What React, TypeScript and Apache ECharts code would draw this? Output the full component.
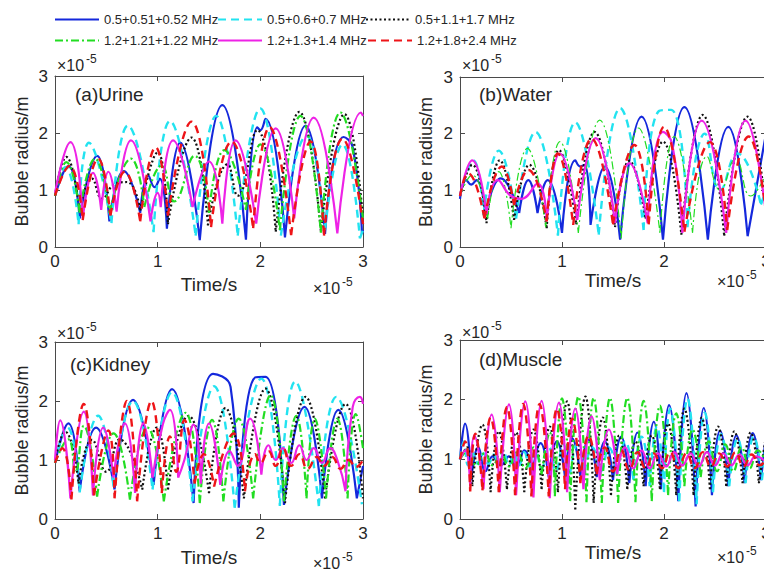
import React, { useEffect, useRef } from 'react';
import * as echarts from 'echarts';

const FONT = '"Liberation Sans", Arial, Helvetica, sans-serif';
const TXT = '#262626';
const AX = '#4a4a4a';

const SERIES_NAMES = [
  '0.5+0.51+0.52 MHz',
  '0.5+0.6+0.7 MHz',
  '0.5+1.1+1.7 MHz',
  '1.2+1.21+1.22 MHz',
  '1.2+1.3+1.4 MHz',
  '1.2+1.8+2.4 MHz',
];
const PANEL_TITLES = ['(a)Urine', '(b)Water', '(c)Kidney', '(d)Muscle'];
const X_NAME = 'Time/s';
const Y_NAME = 'Bubble radius/m';
const AXIS_MIN = 0;
const AXIS_MAX = 3;
const AXIS_STEP = 1;
const EXP_BASE = '×10';
const EXP_POW = '-5';

// values: [time (×1e-5 s), radius (×1e-5 m)]
// (a) Urine
const urineBlue = [[0,0.9],[0.13,1.42],[0.24,0.5],[0.41,1.6],[0.53,0.45],[0.67,1.33],[0.83,0.6],[0.91,1.25],[0.97,1.05],[1.02,1.2],[1.09,0.32],[1.22,1.83],[1.41,0.12],[1.63,2.49],[1.86,0.13],[1.97,2.1],[2.0,2.05],[2.05,2.25],[2.24,0.17],[2.44,2.13],[2.63,0.23],[2.81,1.93],[2.9,1.75],[2.99,0.23],[3.0,0.3]];
const urineCyan = [[0,0.9],[0.1,1.4],[0.23,0.4],[0.33,1.83],[0.55,0.42],[0.71,2.13],[0.96,0.26],[1.12,2.21],[1.37,0.2],[1.57,2.3],[1.78,0.2],[2.0,2.43],[2.2,0.2],[2.45,1.95],[2.63,0.3],[2.8,1.8],[2.97,0.15],[3.0,0.3]];
const urineBlack = [[0,0.9],[0.11,1.58],[0.24,0.62],[0.36,1.2],[0.46,0.85],[0.58,1.1],[0.7,1.14],[0.83,0.64],[1.0,1.66],[1.1,0.4],[1.33,1.92],[1.49,0.38],[1.68,1.45],[1.78,0.9],[1.97,2.05],[2.15,0.27],[2.38,2.37],[2.59,0.27],[2.82,2.33],[3.0,0.5]];
const urineGreen = [[0,0.9],[0.11,1.49],[0.24,0.6],[0.39,1.55],[0.53,0.6],[0.74,1.55],[0.87,0.7],[1.04,1.43],[1.16,0.8],[1.36,1.6],[1.5,0.6],[1.65,1.7],[1.86,0.65],[2.0,1.8],[2.19,0.3],[2.39,2.3],[2.59,0.25],[2.78,2.36],[3.0,0.5]];
const urineMagenta = [[0,0.95],[0.15,1.84],[0.27,0.5],[0.37,1.3],[0.45,0.65],[0.52,1.32],[0.6,0.62],[0.74,1.87],[0.93,0.45],[1.0,0.95],[1.03,0.7],[1.15,1.87],[1.34,0.7],[1.5,1.5],[1.63,0.41],[1.76,1.87],[1.96,0.41],[2.15,2.08],[2.33,0.5],[2.52,2.27],[2.75,0.24],[2.98,2.36],[3.0,2.3]];
const urineRed = [[0,0.9],[0.14,1.42],[0.27,0.47],[0.42,1.55],[0.54,0.55],[0.68,1.32],[0.83,0.45],[0.98,1.75],[1.1,0.55],[1.33,2.2],[1.52,0.35],[1.72,1.85],[1.93,0.33],[2.09,2.1],[2.3,0.21],[2.49,1.85],[2.62,0.2],[2.8,1.9],[3.0,0.4]];

// (b) Water
const waterBlue = [[0,0.85],[0.06,1.18],[0.11,1.1],[0.16,1.18],[0.25,0.57],[0.4,1.21],[0.58,0.6],[0.67,1.18],[0.76,0.6],[0.86,1.18],[1.0,0.25],[1.13,1.53],[1.18,1.42],[1.22,1.45],[1.28,0.39],[1.42,1.42],[1.57,0.13],[1.78,2.3],[1.99,0.13],[2.2,2.47],[2.43,0.13],[2.63,2.12],[2.82,0.19],[3.0,2.0]];
const waterCyan = [[0,0.9],[0.13,1.53],[0.23,0.56],[0.38,1.7],[0.55,0.5],[0.74,2.03],[0.96,0.2],[1.13,2.2],[1.36,0.22],[1.57,2.45],[1.8,0.3],[1.95,2.4],[2.07,2.42],[2.23,0.35],[2.4,2.0],[2.55,1.0],[2.72,1.65],[2.95,0.75],[3.0,1.0]];
const waterBlack = [[0,0.9],[0.12,1.45],[0.26,0.42],[0.39,1.53],[0.53,0.48],[0.68,1.45],[0.85,0.33],[0.97,1.71],[1.14,0.4],[1.32,2.03],[1.52,0.35],[1.66,1.52],[1.82,0.5],[1.99,1.86],[2.17,0.22],[2.38,2.33],[2.59,0.2],[2.82,2.3],[3.0,0.6]];
const waterGreen = [[0,0.9],[0.12,1.27],[0.27,0.5],[0.38,1.33],[0.5,0.33],[0.66,1.74],[0.84,0.35],[0.98,1.86],[1.16,0.25],[1.37,2.24],[1.58,0.15],[1.75,2.1],[1.96,0.25],[2.1,1.95],[2.28,0.25],[2.42,1.6],[2.55,1.0],[2.7,1.55],[2.85,0.9],[3.0,1.3]];
const waterMagenta = [[0,0.9],[0.12,1.53],[0.26,0.58],[0.37,1.18],[0.5,0.9],[0.6,0.85],[0.76,1.12],[0.85,0.45],[0.98,1.65],[1.15,0.48],[1.33,1.92],[1.52,0.42],[1.66,1.48],[1.84,0.42],[1.99,2.03],[2.08,1.82],[2.18,0.25],[2.37,2.23],[2.61,0.25],[2.8,2.23],[3.0,0.6]];
const waterRed = [[0,0.9],[0.08,1.3],[0.24,0.5],[0.41,1.42],[0.53,0.74],[0.67,1.36],[0.85,0.45],[0.96,1.65],[1.11,0.39],[1.29,1.91],[1.5,0.4],[1.71,1.8],[1.85,0.4],[2.0,2.12],[2.2,0.27],[2.45,1.85],[2.62,0.3],[2.83,1.95],[3.0,0.6]];

// (c) Kidney
const kidneyBlue = [[0,0.95],[0.13,1.62],[0.24,0.47],[0.4,1.55],[0.58,0.5],[0.76,2.02],[0.96,0.58],[1.14,2.2],[1.35,0.27],[1.54,2.46],[1.71,2.24],[1.79,0.19],[1.95,2.4],[2.05,2.41],[2.23,0.24],[2.43,1.9],[2.6,0.35],[2.76,1.85],[2.94,0.35],[3.0,0.9]];
const kidneyCyan = [[0,0.95],[0.12,1.55],[0.24,0.45],[0.42,1.75],[0.57,0.55],[0.76,2.0],[0.95,0.5],[1.14,2.15],[1.34,0.3],[1.55,2.25],[1.75,0.19],[2.01,2.38],[2.19,0.22],[2.34,2.33],[2.57,0.22],[2.74,2.07],[2.99,0.25]];
const kidneyBlack = [[0,1.0],[0.1,1.48],[0.23,0.6],[0.36,1.34],[0.5,0.8],[0.63,1.35],[0.85,0.5],[0.99,1.55],[1.1,0.5],[1.3,1.75],[1.5,0.44],[1.66,1.88],[1.84,0.35],[2.05,2.21],[2.24,0.27],[2.44,2.07],[2.63,0.35],[2.83,1.95],[3.0,0.35]];
const kidneyGreen = [[0,0.95],[0.13,1.35],[0.2,0.8],[0.28,1.58],[0.41,0.38],[0.57,1.45],[0.73,0.33],[0.9,1.55],[1.06,0.3],[1.27,1.8],[1.41,0.27],[1.53,1.68],[1.64,0.3],[1.79,1.7],[1.93,0.35],[2.1,2.1],[2.23,0.3],[2.35,1.75],[2.45,0.35],[2.53,1.7],[2.64,0.35],[2.75,1.7],[2.85,0.35],[2.93,1.78],[3.0,1.2]];
const kidneyMagenta = [[0,1.0],[0.05,1.67],[0.15,0.35],[0.28,1.82],[0.37,0.4],[0.47,1.55],[0.57,0.7],[0.68,1.62],[0.78,0.44],[0.86,1.62],[0.95,0.7],[1.05,1.6],[1.12,1.85],[1.2,0.7],[1.26,1.0],[1.35,1.6],[1.42,0.6],[1.5,1.62],[1.61,0.58],[1.7,1.15],[1.78,0.9],[1.9,1.7],[2.01,0.75],[2.08,1.25],[2.15,1.0],[2.22,1.2],[2.3,0.95],[2.38,1.25],[2.45,1.0],[2.52,1.2],[2.6,0.95],[2.68,1.2],[2.75,1.0],[2.83,0.47],[2.9,1.9],[2.97,2.07],[3.0,1.95]];
const kidneyRed = [[0,0.95],[0.07,1.2],[0.16,0.33],[0.28,1.95],[0.38,0.4],[0.52,1.5],[0.58,0.35],[0.7,2.0],[0.8,0.3],[0.94,2.0],[1.04,0.44],[1.12,1.4],[1.18,0.8],[1.26,1.68],[1.36,0.6],[1.45,1.1],[1.55,0.55],[1.74,1.45],[1.85,0.47],[1.95,1.1],[2.0,0.95],[2.08,1.15],[2.15,0.9],[2.22,1.2],[2.3,0.9],[2.38,1.1],[2.46,0.85],[2.55,1.05],[2.62,0.9],[2.7,1.05],[2.78,0.85],[2.86,1.0],[2.93,0.88],[3.0,1.0]];

// (d) Muscle
const muscleBlue = [[0,1.0],[0.05,1.6],[0.11,0.65],[0.18,1.2],[0.25,0.8],[0.32,1.05],[0.4,0.9],[0.48,1.05],[0.55,0.85],[0.63,1.15],[0.71,0.75],[0.79,1.27],[0.87,0.7],[0.95,1.3],[1.03,0.7],[1.1,1.35],[1.18,0.72],[1.26,1.33],[1.34,0.7],[1.42,1.3],[1.5,0.65],[1.58,1.38],[1.66,0.6],[1.74,1.45],[1.82,0.55],[1.9,1.63],[1.97,0.5],[2.05,1.91],[2.14,0.3],[2.22,2.11],[2.31,0.21],[2.39,1.86],[2.47,0.4],[2.55,1.48],[2.63,0.55],[2.71,1.4],[2.79,0.6],[2.87,1.44],[2.95,0.65],[3.0,1.4]];
const muscleCyan = [[0,1.0],[0.04,1.3],[0.08,0.9],[0.13,1.1],[0.18,0.92],[0.23,1.1],[0.28,0.92],[0.33,1.08],[0.38,0.92],[0.43,1.1],[0.48,0.9],[0.53,1.1],[0.58,0.9],[0.63,1.12],[0.68,0.88],[0.74,1.15],[0.8,0.85],[0.87,1.2],[0.94,0.8],[1.01,1.25],[1.08,0.75],[1.15,1.25],[1.22,0.78],[1.3,1.2],[1.38,0.8],[1.46,1.2],[1.54,0.75],[1.62,1.3],[1.7,0.65],[1.78,1.38],[1.86,0.55],[1.93,1.55],[2.0,0.45],[2.06,1.85],[2.15,0.3],[2.23,2.02],[2.32,0.25],[2.4,1.78],[2.48,0.45],[2.56,1.42],[2.64,0.55],[2.72,1.35],[2.8,0.6],[2.88,1.38],[2.96,0.65],[3.0,1.3]];
const muscleBlack = [[0,1.0],[0.07,1.2],[0.12,0.55],[0.22,1.58],[0.3,0.45],[0.38,1.47],[0.46,0.5],[0.55,1.45],[0.63,0.45],[0.72,1.5],[0.8,0.5],[0.88,1.55],[0.96,0.45],[1.05,1.97],[1.13,0.16],[1.23,2.05],[1.31,0.27],[1.4,1.7],[1.48,0.4],[1.56,1.4],[1.64,0.5],[1.72,1.3],[1.8,0.55],[1.88,1.4],[1.96,0.5],[2.04,1.6],[2.12,0.4],[2.2,1.85],[2.29,0.4],[2.37,1.7],[2.45,0.5],[2.53,1.55],[2.61,0.55],[2.69,1.47],[2.77,0.6],[2.85,1.45],[2.93,0.6],[3.0,1.4]];
const muscleGreen = [[0,1.0],[0.08,1.15],[0.16,0.9],[0.24,1.1],[0.32,0.9],[0.4,1.1],[0.48,0.88],[0.56,1.12],[0.64,0.85],[0.72,1.2],[0.8,0.75],[0.88,1.45],[0.93,0.38],[1.0,2.02],[1.08,0.3],[1.16,2.05],[1.24,0.28],[1.31,2.03],[1.39,0.27],[1.47,2.03],[1.55,0.27],[1.64,2.03],[1.72,0.28],[1.8,1.98],[1.88,0.3],[1.96,1.9],[2.04,0.4],[2.12,1.77],[2.2,0.55],[2.28,1.5],[2.36,0.7],[2.44,1.3],[2.52,0.8],[2.6,1.25],[2.68,0.8],[2.76,1.2],[2.84,0.85],[2.92,1.15],[3.0,0.95]];
const muscleMagenta = [[0,1.0],[0.05,1.15],[0.1,0.55],[0.14,1.4],[0.23,0.5],[0.31,1.75],[0.39,0.45],[0.48,1.92],[0.55,0.4],[0.64,1.97],[0.72,0.36],[0.8,1.98],[0.88,0.35],[0.97,1.95],[1.05,0.45],[1.13,1.85],[1.21,0.5],[1.29,1.72],[1.37,0.65],[1.46,1.5],[1.54,0.75],[1.62,1.2],[1.7,0.85],[1.78,1.15],[1.86,0.85],[1.94,1.1],[2.02,0.88],[2.1,1.12],[2.18,0.9],[2.26,1.1],[2.34,0.88],[2.42,1.12],[2.5,0.9],[2.58,1.1],[2.66,0.9],[2.74,1.08],[2.82,0.9],[2.9,1.05],[3.0,0.95]];
const muscleRed = [[0,1.0],[0.05,1.3],[0.1,0.46],[0.15,1.43],[0.22,0.48],[0.3,1.7],[0.38,0.45],[0.46,1.88],[0.54,0.4],[0.62,1.93],[0.7,0.38],[0.78,1.93],[0.87,0.38],[0.95,1.85],[1.03,0.5],[1.1,1.68],[1.18,0.6],[1.26,1.4],[1.34,0.75],[1.42,1.2],[1.5,0.8],[1.58,1.15],[1.66,0.82],[1.74,1.12],[1.82,0.85],[1.9,1.1],[1.98,0.85],[2.06,1.12],[2.14,0.85],[2.22,1.1],[2.3,0.85],[2.38,1.12],[2.46,0.88],[2.54,1.1],[2.62,0.88],[2.7,1.12],[2.78,0.88],[2.86,1.08],[2.94,0.9],[3.0,1.0]];

const PANELS = [
  [urineBlue, urineCyan, urineBlack, urineGreen, urineMagenta, urineRed],
  [waterBlue, waterCyan, waterBlack, waterGreen, waterMagenta, waterRed],
  [kidneyBlue, kidneyCyan, kidneyBlack, kidneyGreen, kidneyMagenta, kidneyRed],
  [muscleBlue, muscleCyan, muscleBlack, muscleGreen, muscleMagenta, muscleRed],
];

const LINE_STYLES: any[] = [
  { color: '#1428dc', type: 'solid', width: 2.2 },
  { color: '#22e3f0', type: [8, 5], width: 2.4 },
  { color: '#111111', type: [2, 2.5], width: 2.2 },
  { color: '#22dd22', type: [8, 3, 2, 3], width: 2.2 },
  { color: '#ee22e6', type: 'solid', width: 2.2 },
  { color: '#ee1418', type: [8, 5], width: 2.4 },
];

const GRIDS = [
  { left: 55, top: 76, width: 308, height: 171 },
  { left: 460, top: 77, width: 306, height: 170 },
  { left: 55, top: 342, width: 308, height: 177 },
  { left: 460, top: 340, width: 306, height: 179 },
];
const X_NAME_GAP = [28, 21, 29, 22];
const Y_NAME_GAP = [24, 25, 24, 25];
const TITLE_POS = [[75, 85], [479, 85], [70, 355], [479, 350]];
const EXP_TOP = [[57, 65], [462, 65], [57, 333], [462, 332]];
const EXP_BOTTOM = [[313, 288], [717, 281], [313, 563], [717, 557]];
const LEGEND_POS = [[54, 13], [217, 13], [365, 13], [54, 34], [217, 34], [367, 34]];

// Bubble collapses give sharp cusps at deep minima. The smoothed line is
// broken (null gap) at each such minimum so each arc ends/starts exactly at
// the minimum with a corner (rendering aid only; read values are unchanged).
function withCusps(data: number[][]) {
  const out: any[] = [];
  data.forEach((pt, i) => {
    const prev = data[i - 1];
    const next = data[i + 1];
    if (prev && next && pt[1] < prev[1] && pt[1] < next[1] && pt[1] < 0.8) {
      out.push(pt);
      out.push([pt[0], null]);
      out.push(pt);
    } else {
      out.push(pt);
    }
  });
  return out;
}

function expLabel(x: number, y: number) {
  return [
    {
      type: 'text', x, y,
      style: { text: EXP_BASE, fontSize: 16, fill: TXT, fontFamily: FONT, verticalAlign: 'middle', align: 'left' },
    },
    {
      type: 'text', x: x + 29, y: y - 6,
      style: { text: EXP_POW, fontSize: 12, fill: TXT, fontFamily: FONT, verticalAlign: 'middle', align: 'left' },
    },
  ];
}

function buildOption() {
  const axisLine = { show: true, onZero: false, lineStyle: { color: AX, width: 1 } };
  const axisTick = { show: true, inside: true, length: 5, lineStyle: { color: AX, width: 1 } };
  const xAxis: any[] = [];
  const yAxis: any[] = [];
  GRIDS.forEach((_, i) => {
    xAxis.push({
      gridIndex: i, type: 'value', min: AXIS_MIN, max: AXIS_MAX, interval: AXIS_STEP, position: 'bottom',
      axisLine, axisTick, splitLine: { show: false },
      axisLabel: { fontSize: 17, color: TXT, margin: 6, fontFamily: FONT, showMinLabel: true, showMaxLabel: true },
      name: X_NAME, nameLocation: 'middle', nameGap: X_NAME_GAP[i],
      nameTextStyle: { fontSize: 19, color: TXT, fontFamily: FONT },
    });
    yAxis.push({
      gridIndex: i, type: 'value', min: AXIS_MIN, max: AXIS_MAX, interval: AXIS_STEP, position: 'left',
      axisLine, axisTick, splitLine: { show: false },
      axisLabel: { fontSize: 17, color: TXT, margin: 7, fontFamily: FONT, showMinLabel: true, showMaxLabel: true },
      name: Y_NAME, nameLocation: 'middle', nameGap: Y_NAME_GAP[i],
      nameTextStyle: { fontSize: 18, color: TXT, fontFamily: FONT },
    });
  });
  GRIDS.forEach((_, i) => {
    xAxis.push({
      gridIndex: i, type: 'value', min: AXIS_MIN, max: AXIS_MAX, interval: AXIS_STEP, position: 'top',
      axisLine, axisTick, splitLine: { show: false }, axisLabel: { show: false },
    });
    yAxis.push({
      gridIndex: i, type: 'value', min: AXIS_MIN, max: AXIS_MAX, interval: AXIS_STEP, position: 'right',
      axisLine, axisTick, splitLine: { show: false }, axisLabel: { show: false },
    });
  });

  const series: any[] = [];
  PANELS.forEach((list, p) => {
    list.forEach((data, k) => {
      const ls = { ...LINE_STYLES[k] };
      if (p === 1 && k === 3) ls.width = 1.2;
      series.push({
        type: 'line', name: SERIES_NAMES[k], xAxisIndex: p, yAxisIndex: p,
        data: withCusps(data), symbol: 'none', showSymbol: false, smooth: 0.5,
        connectNulls: false,
        lineStyle: ls, itemStyle: { color: ls.color }, z: 2 + k,
      });
    });
  });

  const legend = SERIES_NAMES.map((name, k) => ({
    data: [name], left: LEGEND_POS[k][0], top: LEGEND_POS[k][1],
    itemWidth: 44, itemHeight: 14, itemGap: 0, padding: 0, selectedMode: false,
    itemStyle: { opacity: 0 },
    lineStyle: { width: 2 },
    textStyle: { fontSize: 13, color: TXT, fontFamily: FONT },
  }));

  const title = PANEL_TITLES.map((t, i) => ({
    text: t, left: TITLE_POS[i][0], top: TITLE_POS[i][1], padding: 0,
    textStyle: { fontSize: 19, fontWeight: 'normal', color: TXT, fontFamily: FONT },
  }));

  const graphic: any[] = [];
  EXP_TOP.forEach(([x, y]) => graphic.push(...expLabel(x, y)));
  EXP_BOTTOM.forEach(([x, y]) => graphic.push(...expLabel(x, y)));

  return {
    animation: false,
    backgroundColor: '#ffffff',
    textStyle: { fontFamily: FONT },
    grid: GRIDS.map((g) => ({ ...g, containLabel: false, outerBoundsMode: 'none' })),
    xAxis, yAxis, series, legend, title, graphic,
  };
}

export default function App() {
  const ref = useRef<HTMLDivElement>(null);
  useEffect(() => {
    if (!ref.current) return;
    const chart = echarts.init(ref.current, undefined, { renderer: 'svg' });
    chart.setOption(buildOption() as any);
    return () => chart.dispose();
  }, []);
  return (
    <div
      ref={ref}
      style={{ position: 'fixed', left: 0, top: 0, width: 764, height: 572, background: '#fff' }}
    />
  );
}
